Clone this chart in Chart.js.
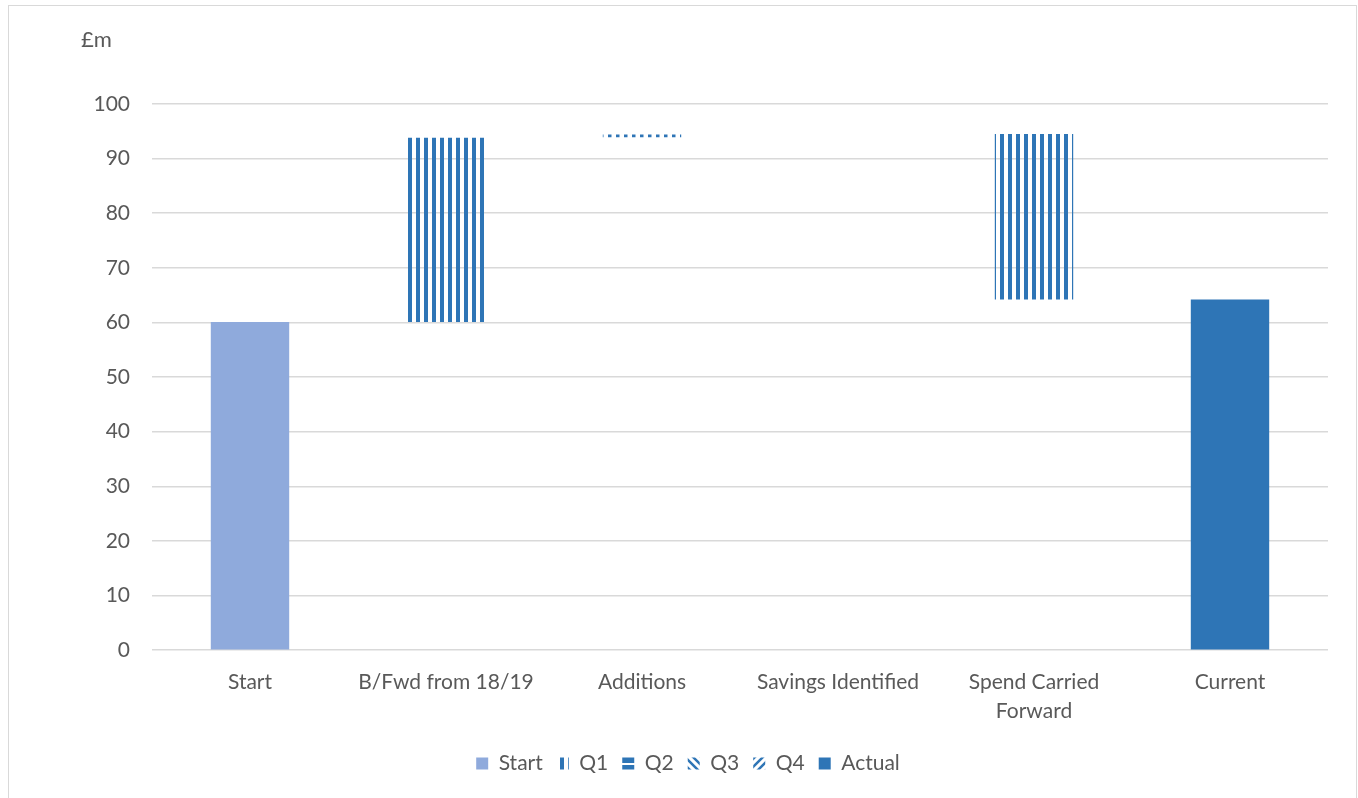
<!DOCTYPE html>
<html>
<head>
<meta charset="utf-8">
<script src="https://cdn.jsdelivr.net/npm/chart.js@4.4.1/dist/chart.umd.min.js"></script>
<style>
  body { margin: 0; background: #fff; }
  #wrap { position: relative; width: 1358px; height: 798px; }
  #frame { position: absolute; left: 8px; top: 5px; width: 1349px; height: 800px; border: 1.5px solid #d9d9d9; box-sizing: border-box; }
  canvas { position: absolute; left: 0; top: 0; }
</style>
</head>
<body>
<div id="wrap">
  <div id="frame"></div>
  <canvas id="waterfallChart" width="1358" height="798"></canvas>
</div>
<script>
// Categorias y valores (barras flotantes [desde, hasta])
const categories = ['Start', 'B/Fwd from 18/19', 'Additions', 'Savings Identified', ['Spend Carried', 'Forward'], 'Current'];
const startVals  = [[0, 60.1], null, null, null, null, null];
const q1Vals     = [null, [60.1, 93.8], null, null, [64.2, 94.5], null];
const q2Vals     = [null, null, [93.9, 94.4], null, null, null];
const q3Vals     = [null, null, null, null, null, null];
const q4Vals     = [null, null, null, null, null, null];
const actualVals = [null, null, null, null, null, [0, 64.2]];
const yTicks     = [0, 10, 20, 30, 40, 50, 60, 70, 80, 90, 100];

const blue = '#2e75b6';
const lightBlue = '#8faadc';
const textGrey = '#595959';
const fontFamily = 'Lato, "Open Sans", sans-serif';

// Tramas para los trimestres
function makePattern(kind) {
  const c = document.createElement('canvas');
  const g = c.getContext('2d');
  c.width = 8; c.height = 8;
  g.fillStyle = blue;
  g.strokeStyle = blue;
  if (kind === 'vertical') {
    g.fillRect(0, 0, 4, 8);
  } else if (kind === 'dots') {
    g.fillRect(0, 0, 3.5, 8);
  } else if (kind === 'horizontal') {
    g.fillRect(0, 0, 8, 3);
    g.fillRect(0, 5, 8, 3);
  } else {
    g.lineWidth = 2.5;
    g.beginPath();
    if (kind === 'back') {
      g.moveTo(-2, -2); g.lineTo(10, 10);
      g.moveTo(-2, 6); g.lineTo(2, 10);
      g.moveTo(6, -2); g.lineTo(10, 2);
    } else {
      g.moveTo(-2, 10); g.lineTo(10, -2);
      g.moveTo(-2, 2); g.lineTo(2, -2);
      g.moveTo(6, 10); g.lineTo(10, 6);
    }
    g.stroke();
  }
  return g.createPattern(c, 'repeat');
}
const q2LegendFill = makePattern('horizontal');

const unitLabel = {
  id: 'unitLabel',
  afterDraw(chart) {
    const ctx = chart.ctx;
    ctx.save();
    ctx.font = '22px ' + fontFamily;
    ctx.fillStyle = textGrey;
    ctx.textBaseline = 'middle';
    ctx.fillText('£m', 81, 40);
    ctx.restore();
  }
};

function ds(label, data, color) {
  return {
    label: label,
    data: data,
    backgroundColor: color,
    borderWidth: 0,
    grouped: false,
    categoryPercentage: 0.8,
    barPercentage: 0.5
  };
}

const ctx = document.getElementById('waterfallChart').getContext('2d');
const waterfallChart = new Chart(ctx, {
  type: 'bar',
  data: {
    labels: categories,
    datasets: [
      ds('Start', startVals, lightBlue),
      ds('Q1', q1Vals, makePattern('vertical')),
      ds('Q2', q2Vals, makePattern('dots')),
      ds('Q3', q3Vals, makePattern('back')),
      ds('Q4', q4Vals, makePattern('fwd')),
      ds('Actual', actualVals, blue)
    ]
  },
  options: {
    responsive: false,
    animation: false,
    layout: { padding: { top: 104, right: 30, bottom: 14, left: 48 } },
    plugins: {
      tooltip: { enabled: false },
      legend: {
        position: 'bottom',
        labels: {
          boxWidth: 12,
          boxHeight: 12,
          padding: 14,
          color: textGrey,
          font: { family: fontFamily, size: 21 },
          generateLabels(chart) {
            const items = Chart.defaults.plugins.legend.labels.generateLabels(chart);
            items.forEach(it => {
              it.lineWidth = 0;
              if (it.text === 'Q2') it.fillStyle = q2LegendFill;
            });
            return items;
          }
        }
      }
    },
    scales: {
      x: {
        afterFit: (scale) => { scale.height += 4; },
        grid: { display: false },
        border: { display: false },
        ticks: {
          color: textGrey,
          padding: 9,
          maxRotation: 0,
          autoSkip: false,
          font: { family: fontFamily, size: 21, lineHeight: 1.4 }
        }
      },
      y: {
        min: 0,
        max: 100,
        afterFit: (scale) => { scale.width = 104; },
        afterBuildTicks: (scale) => { scale.ticks = yTicks.map(v => ({ value: v })); },
        grid: { color: '#d9d9d9', lineWidth: 1.5, drawTicks: false },
        border: { display: false },
        ticks: {
          color: textGrey,
          padding: 22,
          font: { family: fontFamily, size: 21 }
        }
      }
    }
  },
  plugins: [unitLabel]
});
</script>
</body>
</html>
